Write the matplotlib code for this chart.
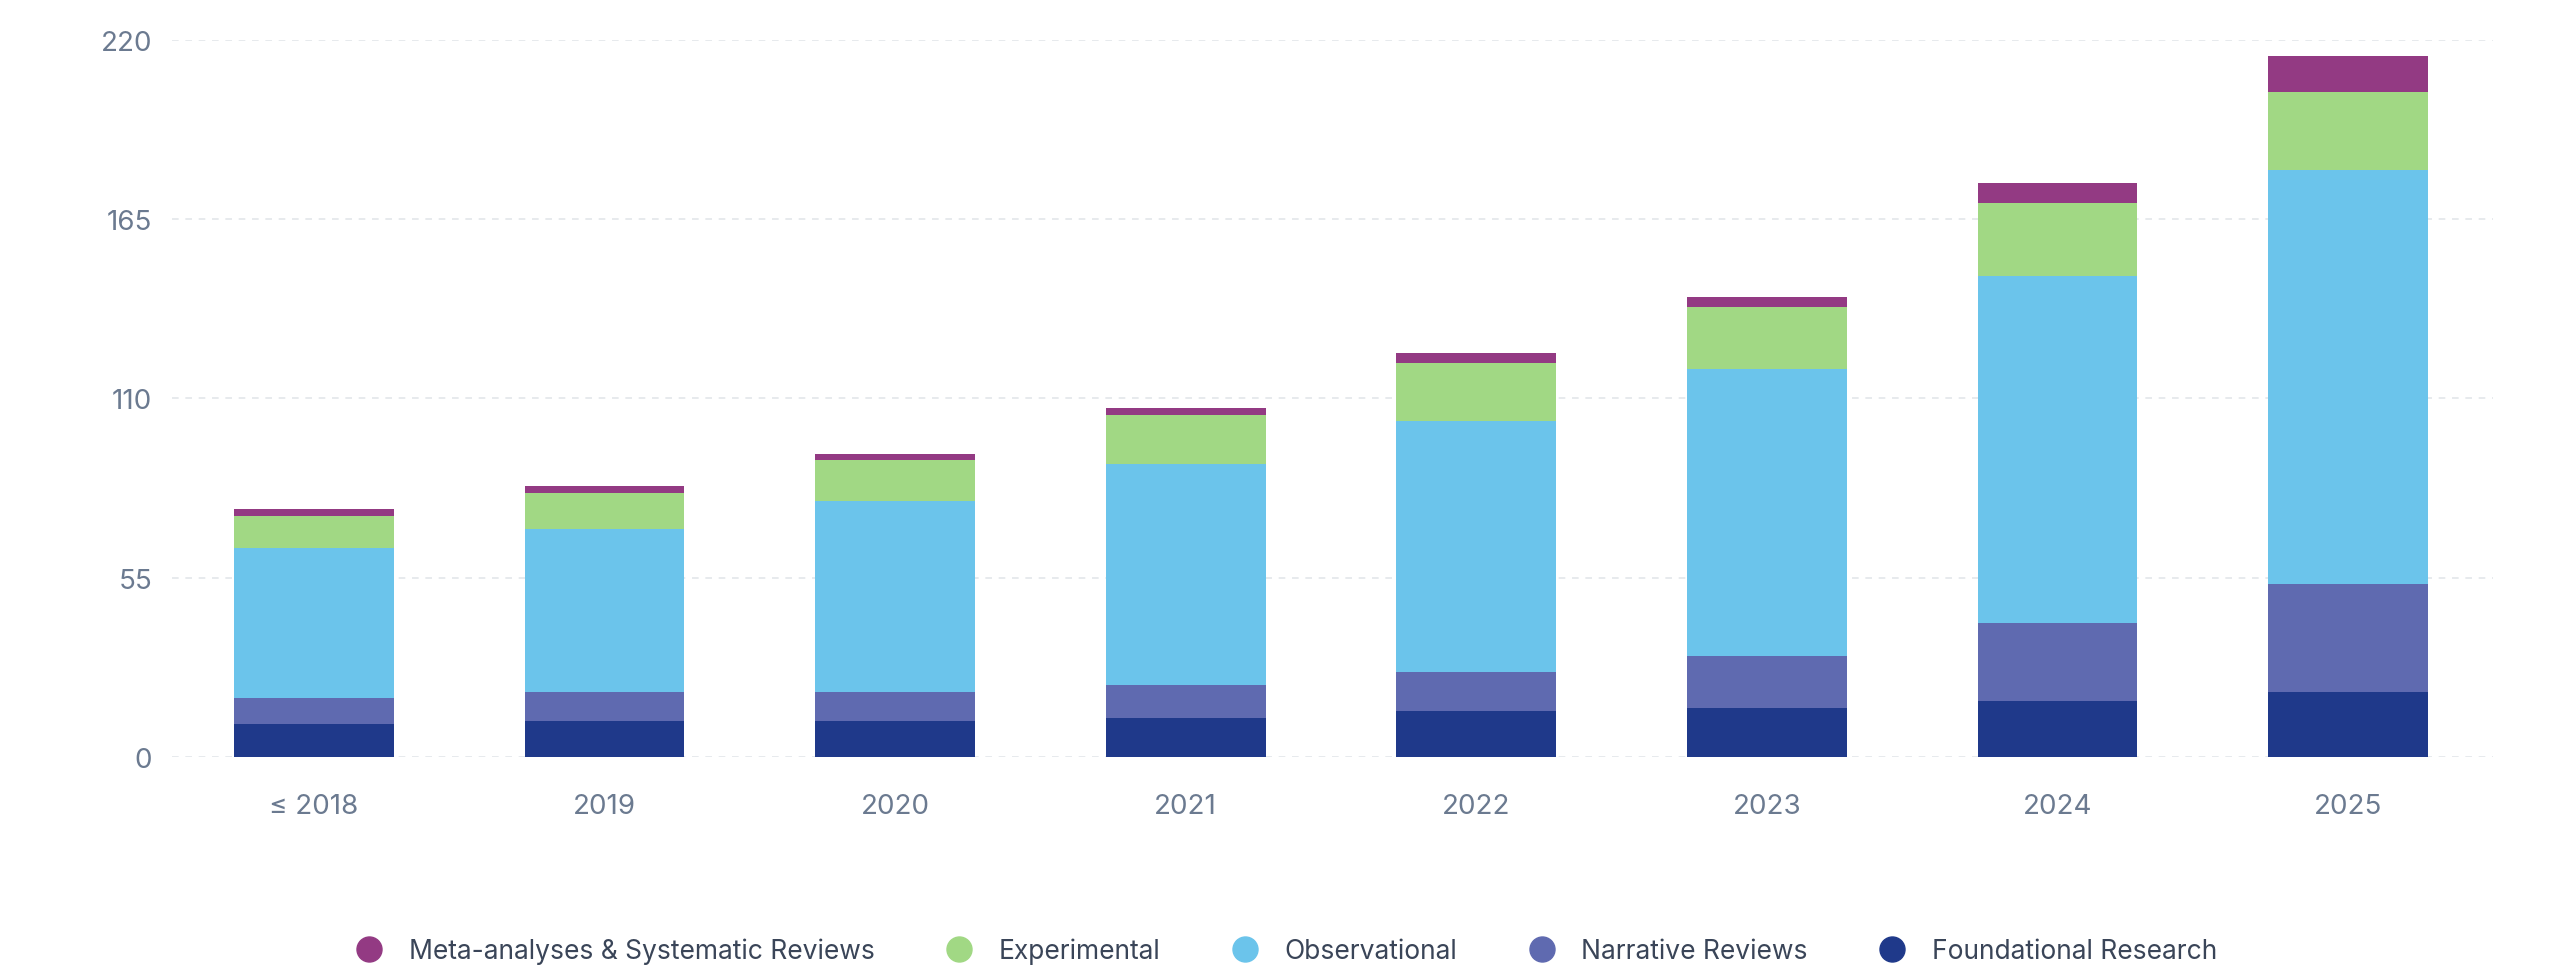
import matplotlib.pyplot as plt
import numpy as np
from matplotlib.lines import Line2D

plt.rcParams['font.family'] = ['Inter', 'DejaVu Sans']

years = ["≤ 2018", "2019", "2020", "2021", "2022", "2023", "2024", "2025"]
foundational = [10, 11, 11, 12, 14, 15, 17, 20]
narrative = [8, 9, 9, 10, 12, 16, 24, 33]
observational = [46, 50, 58.5, 68, 77, 88, 106.5, 127]
experimental = [10, 11, 12.5, 15, 18, 19, 22.5, 24]
meta = [2, 2, 2, 2, 3, 3, 6, 11]

series = [
    ("Foundational Research", foundational, "#1f398a"),
    ("Narrative Reviews", narrative, "#5f6ab0"),
    ("Observational", observational, "#6bc4eb"),
    ("Experimental", experimental, "#a1d884"),
    ("Meta-analyses & Systematic Reviews", meta, "#933a83"),
]

fig = plt.figure(figsize=(25.6, 9.79), dpi=100)
ax = fig.add_axes([0.067, 0.226, 0.907, 0.732])
x = np.arange(len(years))
bottom = np.zeros(len(years))
for name, vals, col in series:
    ax.bar(x, vals, bottom=bottom, width=0.55, color=col, label=name)
    bottom += np.array(vals)

ax.set_ylim(0, 220)
ax.set_yticks([0, 55, 110, 165, 220])
ax.set_xlim(-0.49, 7.5)
ax.set_xticks(x)
ax.set_xticklabels(years)
ax.tick_params(axis='both', length=0, labelsize=20, colors="#6b7a90")
ax.tick_params(axis='x', pad=26)
ax.tick_params(axis='y', pad=14)
ax.grid(axis='y', color="#e3e6ea", linestyle=(0, (4, 4)), linewidth=1.2)
ax.set_axisbelow(True)
for s in ax.spines.values():
    s.set_visible(False)

order = ["Meta-analyses & Systematic Reviews", "Experimental", "Observational",
         "Narrative Reviews", "Foundational Research"]
cols = {n: c for n, _, c in series}
lh = [Line2D([], [], marker='o', linestyle='', markersize=18, color=cols[n], label=n) for n in order]
fig.legend(handles=lh, loc='lower center', bbox_to_anchor=(0.5, -0.01), ncol=5, frameon=False,
           fontsize=19, labelcolor="#3a4558", handletextpad=0.5, columnspacing=2.2)

fig.savefig("out.png", dpi=100, facecolor="white")
